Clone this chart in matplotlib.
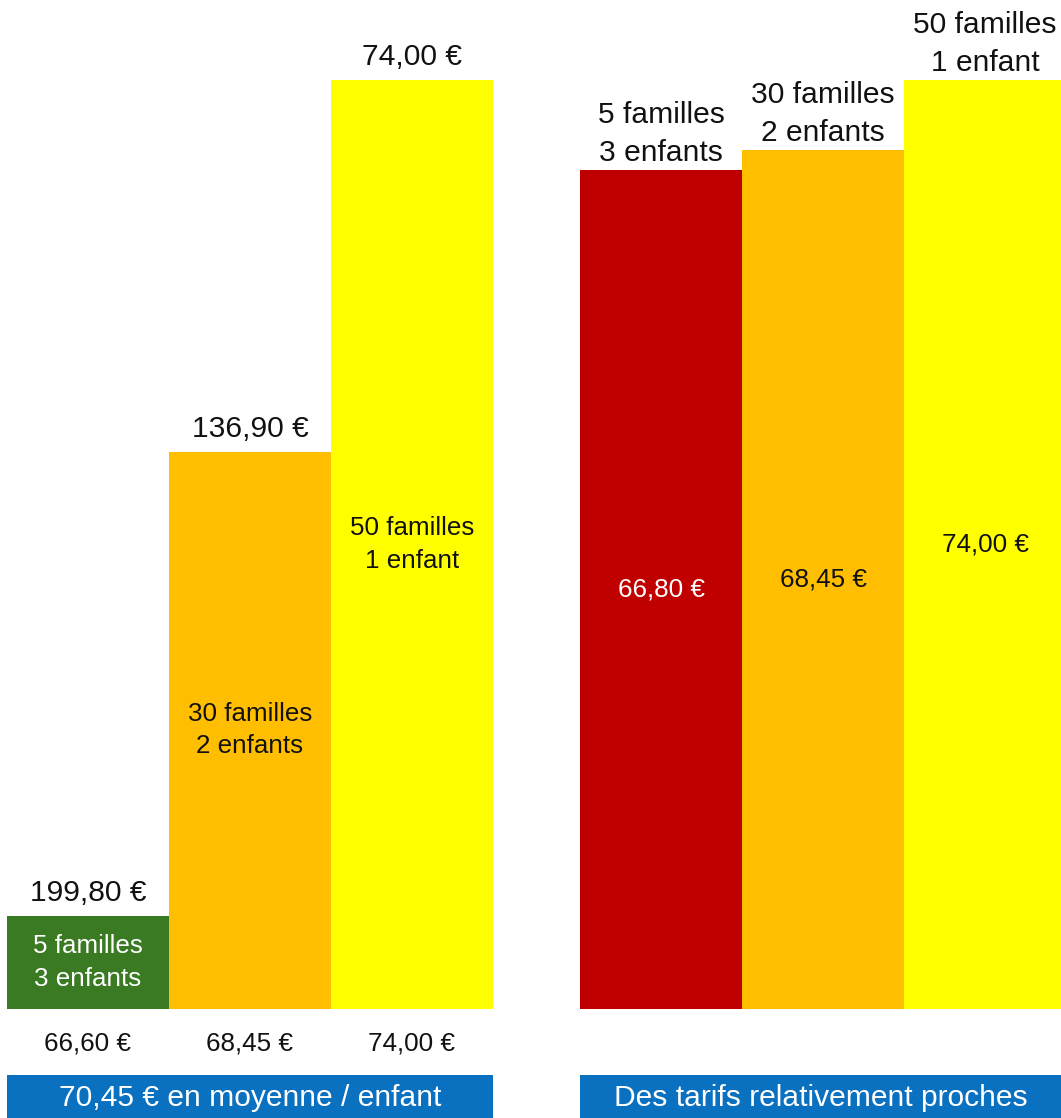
import matplotlib
matplotlib.use('Agg')
from matplotlib import pyplot as plt

plt.rcParams['font.family'] = ['Liberation Sans', 'DejaVu Sans']

# data
groups = ['5 familles\n3 enfants', '30 familles\n2 enfants', '50 familles\n1 enfant']
families = [5, 30, 50]
total_price = [199.80, 136.90, 74.00]
price_left = [66.60, 68.45, 74.00]
price_right = [66.80, 68.45, 74.00]
banner_left = '70,45 € en moyenne / enfant'
banner_right = 'Des tarifs relativement proches'

left_colors = ['#3A7A22', '#FFBF00', '#FFFF00']
right_colors = ['#C00000', '#FFBF00', '#FFFF00']
left_text = ['white', '#111111', '#111111']
right_text = ['white', '#111111', '#111111']
blue = '#0A70C0'

W, H = 1061, 1118
PX = 0.72  # points per pixel at dpi 100
big = 30 * PX
small = 26 * PX


def euro(v):
    return f'{v:.2f}'.replace('.', ',') + ' €'


fig = plt.figure(figsize=(W / 100, H / 100), dpi=100)

bottom = (H - 1009) / H
height = 929 / H
ax1 = fig.add_axes([7 / W, bottom, 486 / W, height])
ax2 = fig.add_axes([580 / W, bottom, 486 / W, height])

x = range(len(groups))

# left panel: height = number of families
ax1.bar(x, families, width=1.0, color=left_colors)
ax1.set_xlim(-0.5, 2.5)
ax1.set_ylim(0, max(families))
for i in x:
    ax1.text(i, families[i] / 2, groups[i], ha='center', va='center',
             fontsize=small, color=left_text[i], linespacing=1.43)
    ax1.annotate(euro(total_price[i]), (i, families[i]), xytext=(0, 23 * PX),
                 textcoords='offset points', ha='center', va='center',
                 fontsize=big, color='#111111', annotation_clip=False)
    ax1.annotate(euro(price_left[i]), (i, 0), xytext=(0, -34 * PX),
                 textcoords='offset points', ha='center', va='center',
                 fontsize=small, color='#111111', annotation_clip=False)

# right panel: height = price per child
ax2.bar(x, price_right, width=1.0, color=right_colors)
ax2.set_xlim(-0.5, 2.5)
ax2.set_ylim(0, max(price_right))
for i in x:
    ax2.text(i, price_right[i] / 2, euro(price_right[i]), ha='center', va='center',
             fontsize=small, color=right_text[i])
    ax2.annotate(groups[i], (i, price_right[i]), xytext=(0, 36 * PX),
                 textcoords='offset points', ha='center', va='center',
                 fontsize=big, color='#111111', linespacing=1.46,
                 annotation_clip=False)

for ax in (ax1, ax2):
    ax.axis('off')

# blue banners under each panel
bh = (1118 - 1075) / H
for pos, label in ((ax1.get_position(), banner_left), (ax2.get_position(), banner_right)):
    bax = fig.add_axes([pos.x0, 0, pos.width, bh])
    bax.set_facecolor(blue)
    bax.set_xticks([])
    bax.set_yticks([])
    for s in bax.spines.values():
        s.set_visible(False)
    bax.text(0.5 - (0.005 if label == banner_right else 0), 0.47, label,
             transform=bax.transAxes, ha='center', va='center',
             fontsize=big, color='white')

fig.savefig('out.png', dpi=100)
